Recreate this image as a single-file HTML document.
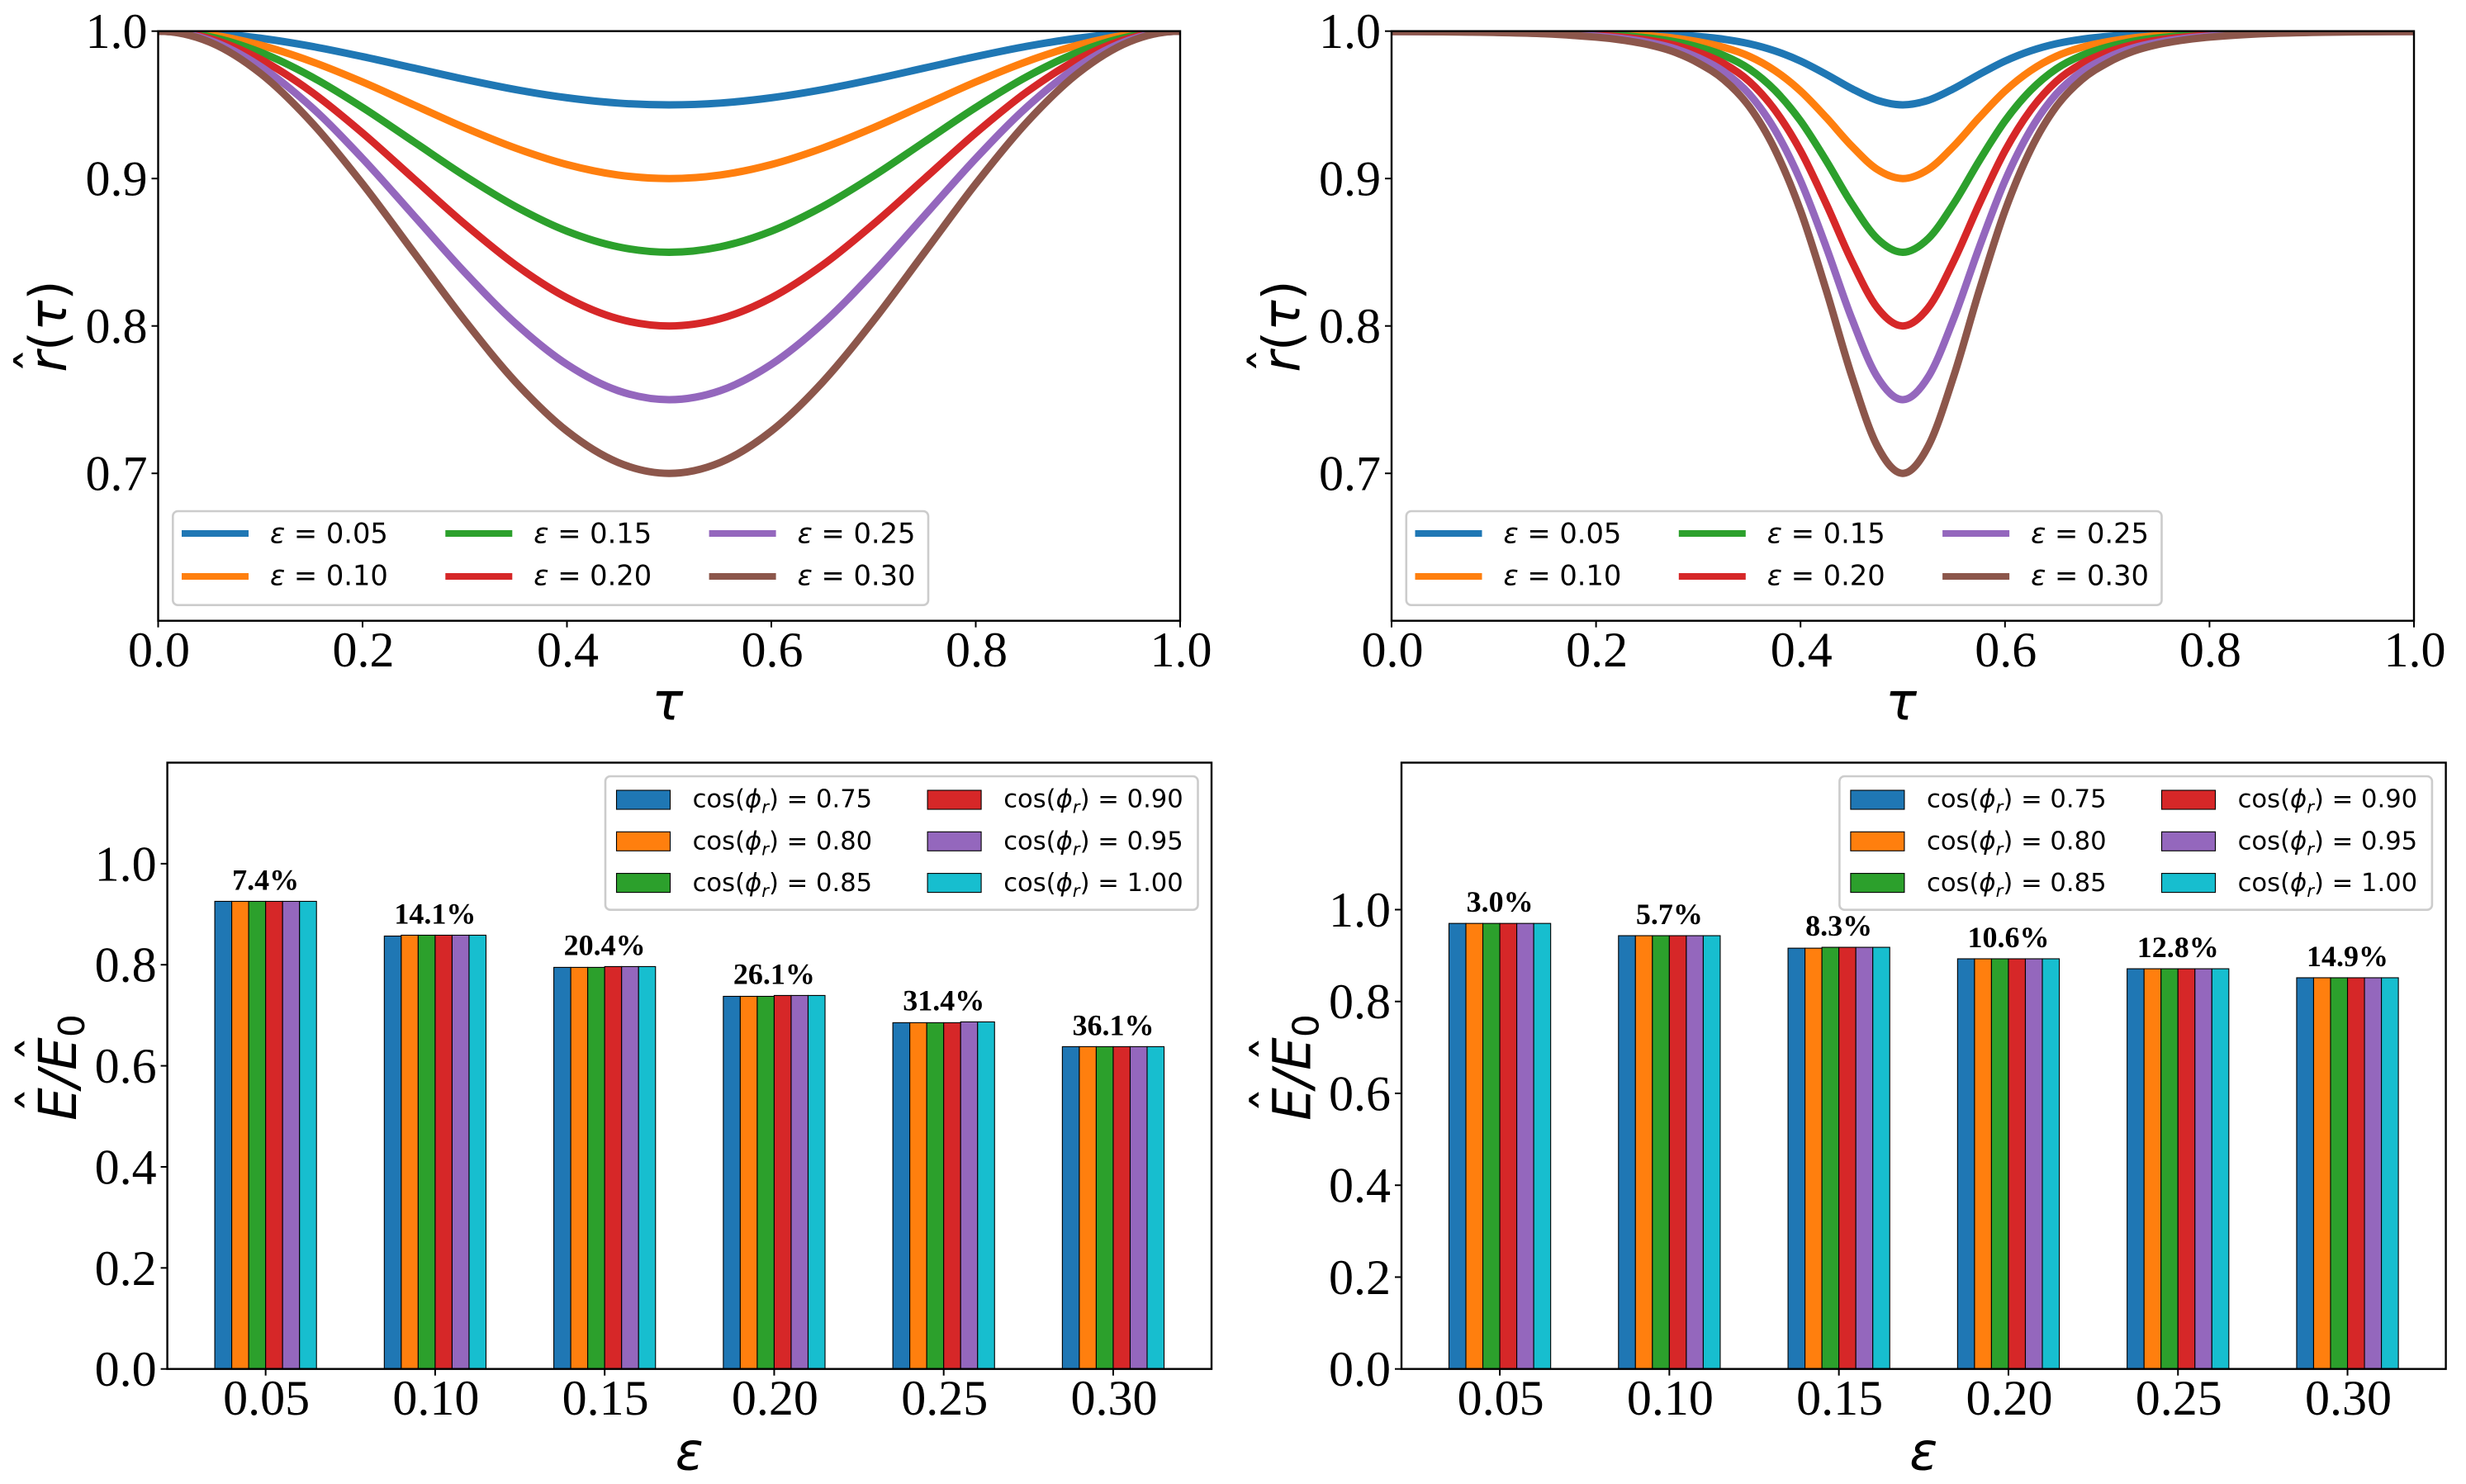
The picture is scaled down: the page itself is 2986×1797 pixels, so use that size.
<!DOCTYPE html>
<html lang="en">
<head>
<meta charset="utf-8">
<title>Charts of r(τ) curves and energy ratio bars</title>
<style>
html,body{margin:0;padding:0;background:#fff}
svg{display:block}
</style>
</head>
<body>
<svg id="figure" xmlns="http://www.w3.org/2000/svg" width="2986" height="1797" viewBox="0 0 2986 1797">
<rect x="0" y="0" width="2986" height="1797" fill="#ffffff"/>
</svg>
<script>
// ---------- data: wide dip curves ----------
const tauWide = [0,0.05,0.1,0.15,0.2,0.25,0.3,0.35,0.4,0.45,0.5,0.55,0.6,0.65,0.7,0.75,0.8,0.85,0.9,0.95,1];
const wideEps05 = [1,.9988,.9952,.9897,.9827,.975,.9673,.9603,.9548,.9512,.95,.9512,.9548,.9603,.9673,.975,.9827,.9897,.9952,.9988,1];
const wideEps10 = [1,.9976,.9905,.9794,.9655,.95,.9345,.9206,.9095,.9024,.9,.9024,.9095,.9206,.9345,.95,.9655,.9794,.9905,.9976,1];
const wideEps15 = [1,.9963,.9857,.9691,.9482,.925,.9018,.8809,.8643,.8537,.85,.8537,.8643,.8809,.9018,.925,.9482,.9691,.9857,.9963,1];
const wideEps20 = [1,.9951,.9809,.9588,.9309,.9,.8691,.8412,.8191,.8049,.8,.8049,.8191,.8412,.8691,.9,.9309,.9588,.9809,.9951,1];
const wideEps25 = [1,.9939,.9761,.9485,.9136,.875,.8364,.8015,.7739,.7561,.75,.7561,.7739,.8015,.8364,.875,.9136,.9485,.9761,.9939,1];
const wideEps30 = [1,.9927,.9714,.9382,.8964,.85,.8037,.7618,.7287,.7074,.7,.7074,.7287,.7618,.8037,.85,.8964,.9382,.9714,.9927,1];

// ---------- data: narrow dip curves ----------
const tauNarrow = [0,0.05,0.1,0.15,0.2,0.225,0.25,0.275,0.3,0.325,0.35,0.375,0.4,0.425,0.45,0.475,0.5,0.525,0.55,0.575,0.6,0.625,0.65,0.675,0.7,0.725,0.75,0.775,0.8,0.85,0.9,0.95,1];
const narrowEps05 = [.99995,.99993,.99985,.9997,.99933,.999,.9985,.9977,.9964,.9945,.99145,.9866,.9797,.97075,.96105,.9531,.95,.9531,.96105,.97075,.9797,.9866,.99145,.9945,.9964,.9977,.9985,.999,.99933,.9997,.99985,.99993,.99995];
const narrowEps10 = [.9999,.99985,.9997,.9994,.99865,.998,.997,.9954,.9928,.989,.9829,.9732,.9594,.9415,.9221,.9062,.9,.9062,.9221,.9415,.9594,.9732,.9829,.989,.9928,.9954,.997,.998,.99865,.9994,.9997,.99985,.9999];
const narrowEps15 = [.99985,.99978,.99955,.9991,.99798,.997,.9955,.9931,.9892,.9835,.97435,.9598,.9391,.91225,.88315,.8593,.85,.8593,.88315,.91225,.9391,.9598,.97435,.9835,.9892,.9931,.9955,.997,.99798,.9991,.99955,.99978,.99985];
const narrowEps20 = [.9998,.9997,.9994,.9988,.9973,.996,.994,.9908,.9856,.978,.9658,.9464,.9188,.883,.8442,.8124,.8,.8124,.8442,.883,.9188,.9464,.9658,.978,.9856,.9908,.994,.996,.9973,.9988,.9994,.9997,.9998];
const narrowEps25 = [.99975,.99963,.99925,.9985,.99663,.995,.9925,.9885,.982,.9725,.95725,.933,.8985,.85375,.80525,.7655,.75,.7655,.80525,.85375,.8985,.933,.95725,.9725,.982,.9885,.9925,.995,.99663,.9985,.99925,.99963,.99975];
const narrowEps30 = [.9997,.99955,.9991,.9982,.99595,.994,.991,.9862,.9784,.967,.9487,.9196,.8782,.8245,.7663,.7186,.7,.7186,.7663,.8245,.8782,.9196,.9487,.967,.9784,.9862,.991,.994,.99595,.9982,.9991,.99955,.9997];

// ---------- data: bars, one array per cos(phi) ----------
const barLeft075 = [.9255,.8568,.7948,.7375,.6853,.6379];
const barLeft080 = [.9255,.8585,.7948,.7375,.6853,.6379];
const barLeft085 = [.9255,.8585,.7948,.7375,.6853,.6379];
const barLeft090 = [.9255,.8585,.7964,.7392,.6853,.6379];
const barLeft095 = [.9255,.8585,.7964,.7392,.6869,.6379];
const barLeft100 = [.9255,.8585,.7964,.7392,.6869,.6379];
const barRight075 = [.970,.9433,.9161,.893,.8713,.8517];
const barRight080 = [.970,.9433,.9161,.893,.8713,.8517];
const barRight085 = [.970,.9433,.918,.893,.8713,.8517];
const barRight090 = [.970,.9433,.918,.893,.8713,.8517];
const barRight095 = [.970,.9433,.918,.893,.8713,.8517];
const barRight100 = [.970,.9433,.918,.893,.8713,.8517];
const pctLeft = ['7.4%','14.1%','20.4%','26.1%','31.4%','36.1%'];
const pctRight = ['3.0%','5.7%','8.3%','10.6%','12.8%','14.9%'];

// ---------- data: labels and ticks ----------
const epsCategories = ['0.05','0.10','0.15','0.20','0.25','0.30'];
const cosCategories = ['0.75','0.80','0.85','0.90','0.95','1.00'];
const curveTicksX = [0,0.2,0.4,0.6,0.8,1.0];
const curveTicksY = [0.7,0.8,0.9,1.0];
const barTicksY = [0,0.2,0.4,0.6,0.8,1.0];
const curveColors = ['#1f77b4','#ff7f0e','#2ca02c','#d62728','#9467bd','#8c564b'];
const barColors = ['#1f77b4','#ff7f0e','#2ca02c','#d62728','#9467bd','#17becf'];

const SERIF = '"Liberation Serif","Times New Roman",serif';
const SANS = '"DejaVu Sans",sans-serif';
const NS = 'http://www.w3.org/2000/svg';
const root = document.getElementById('figure');

function mk(tag, parent, attrs, txt) {
  const n = document.createElementNS(NS, tag);
  for (const k in attrs) n.setAttribute(k, attrs[k]);
  if (txt !== undefined) n.textContent = txt;
  parent.appendChild(n);
  return n;
}

function smoothPath(xs, ys) {
  let d = 'M' + xs[0].toFixed(2) + ' ' + ys[0].toFixed(2);
  const last = xs.length - 1;
  for (let i = 0; i < last; i++) {
    const h = xs[i + 1] - xs[i];
    const m1 = i === 0 ? 0 : (ys[i + 1] - ys[i - 1]) / (xs[i + 1] - xs[i - 1]);
    const m2 = i + 1 === last ? 0 : (ys[i + 2] - ys[i]) / (xs[i + 2] - xs[i]);
    d += 'C' + (xs[i] + h / 3).toFixed(2) + ' ' + (ys[i] + m1 * h / 3).toFixed(2) + ' ' +
      (xs[i + 1] - h / 3).toFixed(2) + ' ' + (ys[i + 1] - m2 * h / 3).toFixed(2) + ' ' +
      xs[i + 1].toFixed(2) + ' ' + ys[i + 1].toFixed(2);
  }
  return d;
}

function drawFrame(g, box) {
  const frame = mk('rect', g, {x: box.left, y: box.top, width: box.right - box.left, height: box.bottom - box.top, fill: 'none', stroke: '#000', 'stroke-width': 2.4});
  
  
}

function drawYTicks(g, box, ticks, yOf) {
  ticks.forEach(function (v) {
    const y = yOf(v);
    const tick = mk('line', g, {x1: box.left - 8, x2: box.left, y1: y, y2: y, stroke: '#000', 'stroke-width': 2});
    
    
    const label = mk('text', g, {x: box.left - 13, y: y + 20.5, 'text-anchor': 'end', 'font-family': SERIF, 'font-size': 60, fill: '#000'}, v.toFixed(1));
    
    
  });
}

function drawXTick(g, box, x, text) {
  const tick = mk('line', g, {x1: x, x2: x, y1: box.bottom, y2: box.bottom + 8, stroke: '#000', 'stroke-width': 2});
  
  
  const label = mk('text', g, {x: x + 1, y: box.bottom + 55.5, 'text-anchor': 'middle', 'font-family': SERIF, 'font-size': 60, fill: '#000'}, text);
  
  
}

function drawLegendFrame(g, x, y, w, h) {
  const f = mk('rect', g, {x: x, y: y, width: w, height: h, rx: 6, ry: 6, fill: '#fff', 'fill-opacity': 0.8, stroke: '#cccccc', 'stroke-width': 2.6});
  
  
}

function drawCurvePanel(prefix, box, tau, seriesList) {
  const g = mk('g', root, {});
  
  
  const xOf = function (v) { return box.left + v * (box.right - box.left); };
  const yOf = function (v) { return box.bottom - (v - 0.6) / 0.4 * (box.bottom - box.top); };
  const clip = mk('clipPath', g, {id: prefix + '-clip'});
  mk('rect', clip, {x: box.left, y: box.top, width: box.right - box.left, height: box.bottom - box.top});
  const xs = tau.map(xOf);
  seriesList.forEach(function (vals, i) {
    const line = mk('path', g, {d: smoothPath(xs, vals.map(yOf)), fill: 'none', stroke: curveColors[i], 'stroke-width': 9, 'clip-path': 'url(#' + prefix + '-clip)'});
    
    
  });
  drawFrame(g, box);
  drawYTicks(g, box, curveTicksY, yOf);
  curveTicksX.forEach(function (v) { drawXTick(g, box, xOf(v), v.toFixed(1)); });

  const xt = mk('text', g, {x: (box.left + box.right) / 2 - 2, y: box.bottom + 120, 'text-anchor': 'middle', 'font-family': SANS, 'font-style': 'italic', 'font-size': 63, fill: '#000'}, 'τ');
  
  

  const yt = mk('g', g, {transform: 'translate(' + (box.left - 111.5) + ',395) rotate(-90)'});
  
  
  const t = mk('text', yt, {x: 0, y: 0, 'text-anchor': 'middle', 'font-family': SANS, 'font-size': 62, fill: '#000'});
  mk('tspan', t, {'font-style': 'italic'}, 'r');
  mk('tspan', t, {}, '(');
  mk('tspan', t, {'font-style': 'italic'}, 'τ');
  mk('tspan', t, {}, ')');
  mk('text', yt, {x: -41.5, y: -14, 'text-anchor': 'middle', 'font-family': SANS, 'font-size': 62, fill: '#000'}, 'ˆ');

  const lx = box.left + 17.8, ly = 619;
  const lg = mk('g', g, {});
  
  
  drawLegendFrame(lg, lx, ly, 914.7, 113.7);
  epsCategories.forEach(function (cat, i) {
    const col = Math.floor(i / 2), row = i % 2;
    const colStep = 319.3;
    const yc = ly + 27 + row * 52;
    const h = mk('rect', lg, {x: lx + 10.7 + col * colStep, y: yc - 4, width: 81, height: 8, fill: curveColors[i]});
    
    
    const tx = mk('text', lg, {x: lx + 117.7 + col * colStep, y: ly + 38.3 + row * 51, 'font-family': SANS, 'font-size': 33.7, fill: '#000', 'xml:space': 'preserve'});
    
    
    mk('tspan', tx, {'font-style': 'italic'}, 'ε');
    mk('tspan', tx, {}, ' = ' + cat);
  });
}

function drawBarPanel(prefix, box, ymax, seriesList, pct) {
  const g = mk('g', root, {});
  
  
  const unit = (box.right - box.left) / 6.16;
  const xOf = function (v) { return box.left + (v + 0.58) * unit; };
  const yOf = function (v) { return box.bottom - v / ymax * (box.bottom - box.top); };
  seriesList.forEach(function (vals, s) {
    vals.forEach(function (v, c) {
      const x0 = xOf(c - 0.3 + s * 0.1);
      const r = mk('rect', g, {x: x0, y: yOf(v), width: 0.1 * unit, height: box.bottom - yOf(v), fill: barColors[s], stroke: '#000', 'stroke-width': 1.1});
      
      
    });
  });
  pct.forEach(function (p, c) {
    let top = 0;
    seriesList.forEach(function (vals) { top = Math.max(top, vals[c]); });
    const t = mk('text', g, {x: xOf(c), y: yOf(top) - 14, 'text-anchor': 'middle', 'font-family': SERIF, 'font-weight': 'bold', 'font-size': 36, fill: '#000'}, p);
    
    
  });
  drawFrame(g, box);
  drawYTicks(g, box, barTicksY, yOf);
  epsCategories.forEach(function (cat, c) { drawXTick(g, box, xOf(c), cat); });

  const xt = mk('text', g, {x: (box.left + box.right) / 2, y: box.bottom + 122, 'text-anchor': 'middle', 'font-family': SANS, 'font-style': 'italic', 'font-size': 63, fill: '#000'}, 'ε');
  
  

  const yt = mk('g', g, {transform: 'translate(' + (box.left - 110.6) + ',1293) rotate(-90)'});
  
  
  const t = mk('text', yt, {x: -64, y: 0, 'font-family': SANS, 'font-size': 63, fill: '#000'});
  mk('tspan', t, {'font-style': 'italic'}, 'E/E');
  mk('tspan', t, {dy: 10, 'font-size': 44}, '0');
  mk('text', yt, {x: -39, y: -23.4, 'text-anchor': 'middle', 'font-family': SANS, 'font-size': 63, fill: '#000'}, 'ˆ');
  mk('text', yt, {x: 23, y: -23.4, 'text-anchor': 'middle', 'font-family': SANS, 'font-size': 63, fill: '#000'}, 'ˆ');

  const lx = box.left + 530.4, ly = 940;
  const lg = mk('g', g, {});
  
  
  drawLegendFrame(lg, lx, ly, 717.5, 161.7);
  cosCategories.forEach(function (cat, i) {
    const col = Math.floor(i / 3), row = i % 3;
    const colStep = 376.6;
    const h = mk('rect', lg, {x: lx + 13.5 + col * colStep, y: ly + 17 + row * 50.3, width: 65, height: 23, fill: barColors[i], stroke: '#000', 'stroke-width': 1.1});
    
    
    const tx = mk('text', lg, {x: lx + 105.6 + col * colStep, y: ly + 37.7 + row * 50.6, 'font-family': SANS, 'font-size': 30.6, fill: '#000', 'xml:space': 'preserve'});
    
    
    mk('tspan', tx, {}, 'cos(');
    mk('tspan', tx, {'font-style': 'italic'}, 'ϕ');
    mk('tspan', tx, {'font-style': 'italic', 'font-size': 21.4, dy: 7}, 'r');
    mk('tspan', tx, {dy: -7}, ') = ' + cat);
  });
}

drawCurvePanel('wide', {left: 191.5, right: 1429, top: 37.7, bottom: 751.7}, tauWide,
  [wideEps05, wideEps10, wideEps15, wideEps20, wideEps25, wideEps30]);
drawCurvePanel('narrow', {left: 1685, right: 2923, top: 37.7, bottom: 751.7}, tauNarrow,
  [narrowEps05, narrowEps10, narrowEps15, narrowEps20, narrowEps25, narrowEps30]);
drawBarPanel('left', {left: 202.6, right: 1467, top: 923.5, bottom: 1657.7}, 1.2,
  [barLeft075, barLeft080, barLeft085, barLeft090, barLeft095, barLeft100], pctLeft);
drawBarPanel('right', {left: 1697, right: 2961.6, top: 923.5, bottom: 1657.7}, 1.32,
  [barRight075, barRight080, barRight085, barRight090, barRight095, barRight100], pctRight);
</script>
</body>
</html>
